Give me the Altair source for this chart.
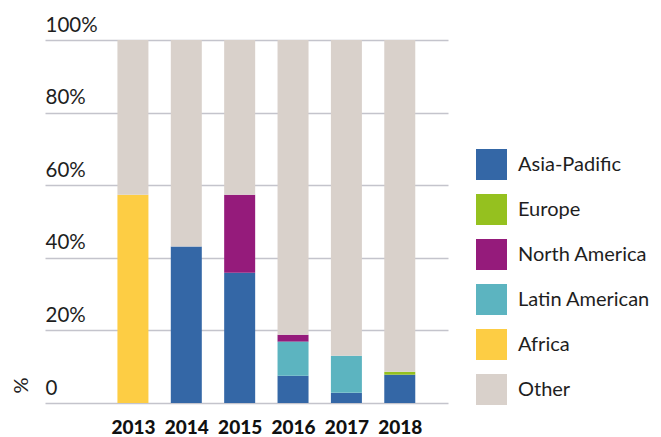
import altair as alt
import pandas as pd

years = [2013, 2014, 2015, 2016, 2017, 2018]
regions = ["Asia-Padific", "Europe", "North America", "Latin American", "Africa", "Other"]
colors = ["#3467a6", "#95c11f", "#951b7b", "#5cb4c0", "#fdcd44", "#d9d1cb"]
stack_rank = {"Asia-Padific": 0, "Europe": 1, "Latin American": 2, "North America": 3, "Africa": 4, "Other": 5}

asia = [0, 43.1, 35.9, 7.5, 2.8, 7.8]
europe = [0, 0, 0, 0, 0, 0.8]
north_america = [0, 0, 21.5, 1.9, 0, 0]
latin_american = [0, 0, 0, 9.4, 10.2, 0]
africa = [57.4, 0, 0, 0, 0, 0]

series = {
    "Asia-Padific": asia,
    "Europe": europe,
    "North America": north_america,
    "Latin American": latin_american,
    "Africa": africa,
}

rows = []
for i, yr in enumerate(years):
    total = 0
    for name, vals in series.items():
        if vals[i] > 0:
            rows.append({"year": yr, "region": name, "value": vals[i], "rank": stack_rank[name]})
            total += vals[i]
    rows.append({"year": yr, "region": "Other", "value": round(100 - total, 2), "rank": stack_rank["Other"]})
df = pd.DataFrame(rows)

chart = alt.Chart(df).mark_bar(size=31).encode(
    x=alt.X("year:Q",
            scale=alt.Scale(domain=[2011.446, 2018.81], nice=False, zero=False),
            axis=alt.Axis(values=years, format="d", title=None, grid=False, ticks=False,
                          domain=False, labelFont="Lato", labelFontWeight=900,
                          labelFontSize=19, labelColor="#111111", labelPadding=15,
                          labelBaseline="top")),
    y=alt.Y("value:Q", stack="zero",
            scale=alt.Scale(domain=[0, 100], nice=False),
            axis=alt.Axis(values=[0, 20, 40, 60, 80, 100], title="%",
                          labelExpr="datum.value == 0 ? '0' : datum.value + '%'",
                          labelAlign="left", labelBaseline="alphabetic", labelOffset=-9,
                          labelPadding=0, ticks=False, domain=False,
                          labelFont="Lato", labelFontWeight=400, labelFontSize=20.5,
                          labelColor="#1e1e1e",
                          gridColor="#c4c4cc", gridWidth=1.5,
                          titleFont="Lato", titleFontWeight=400, titleFontSize=20,
                          titleColor="#1e1e1e", titleAngle=270, titleX=-24, titleY=345,
                          titleAlign="center", titleBaseline="middle")),
    color=alt.Color("region:N",
                    scale=alt.Scale(domain=regions, range=colors),
                    legend=alt.Legend(title=None, orient="none", legendX=431, legendY=109,
                                      symbolType="square", symbolSize=961,
                                      symbolStrokeWidth=0, symbolOpacity=1,
                                      labelFont="Lato", labelFontSize=20, labelColor="#1e1e1e",
                                      labelOffset=11, rowPadding=14, padding=0,
                                      labelLimit=300)),
    order=alt.Order("rank:Q", sort="ascending"),
).properties(
    width=403, height=363,
    autosize=alt.AutoSizeParams(type="none"),
    padding={"left": 37, "top": 32, "right": 205, "bottom": 34},
).configure_view(stroke=None)

chart.save("out.html", embed_options={"renderer": "svg", "actions": False})
